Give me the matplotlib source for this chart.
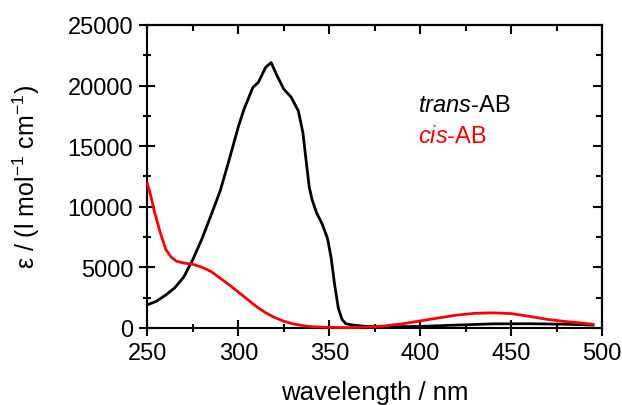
import matplotlib
matplotlib.use('Agg')
import matplotlib.pyplot as plt
from matplotlib.ticker import MultipleLocator

# absorption spectra of azobenzene
trans_wl = [250, 255, 260, 265, 270, 275, 280, 285, 290, 295, 300, 303, 308, 311, 315, 318,
            321, 325, 329, 333, 335.5, 337.5, 339, 340.5, 343, 346, 349, 351, 353, 355, 357,
            359, 362, 366, 370, 380, 400, 420, 440, 460, 480, 495]
trans_eps = [1900, 2200, 2700, 3300, 4200, 5650, 7350, 9300, 11300, 13900, 16600, 18000, 19850,
             20270, 21500, 21900, 20900, 19700, 19050, 17900, 16100, 13500, 11600, 10600, 9500,
             8600, 7400, 5800, 3500, 1600, 700, 350, 250, 180, 120, 80, 120, 230, 330, 340, 300, 230]

cis_wl = [250, 252, 254, 257, 260, 263, 266, 270, 275, 280, 285, 290, 295, 300, 305, 310, 315,
          320, 325, 330, 335, 340, 350, 360, 370, 380, 390, 400, 410, 420, 430, 440, 450, 460,
          470, 480, 490, 495]
cis_eps = [11900, 10800, 9500, 7900, 6500, 5850, 5500, 5350, 5250, 5000, 4650, 4100, 3550, 2950,
           2350, 1750, 1250, 850, 550, 330, 200, 100, 40, 20, 60, 150, 330, 570, 820, 1050, 1200,
           1240, 1180, 950, 700, 520, 380, 290]

plt.rcParams['font.family'] = 'Liberation Sans'
plt.rcParams['mathtext.fontset'] = 'custom'
plt.rcParams['mathtext.rm'] = 'Liberation Sans'
plt.rcParams['mathtext.it'] = 'Liberation Sans:italic'
plt.rcParams['mathtext.default'] = 'regular'

fig = plt.figure(figsize=(6.22, 4.06), dpi=100)
ax = fig.add_axes([0.237, 0.19, 0.731, 0.746])

ax.plot(trans_wl, trans_eps, color='black', lw=2.0, zorder=3, clip_on=False)
ax.plot(cis_wl, cis_eps, color='red', lw=2.0, zorder=4, clip_on=False)

ax.set_xlim(250, 500)
ax.set_ylim(0, 25000)
ax.xaxis.set_major_locator(MultipleLocator(50))
ax.xaxis.set_minor_locator(MultipleLocator(25))
ax.yaxis.set_major_locator(MultipleLocator(5000))
ax.yaxis.set_minor_locator(MultipleLocator(2500))

for s in ax.spines.values():
    s.set_linewidth(1.5)

ax.tick_params(which='both', direction='inout', width=1.5, labelsize=17, pad=4.5)
ax.tick_params(which='major', length=11.5)
ax.tick_params(which='minor', length=6)

# top / right ticks point inward only
secx = ax.secondary_xaxis('top')
secx.xaxis.set_major_locator(MultipleLocator(50))
secx.xaxis.set_minor_locator(MultipleLocator(25))
secx.tick_params(which='both', direction='in', width=1.5, labeltop=False)
secx.tick_params(which='major', length=6.5)
secx.tick_params(which='minor', length=4)
secx.spines['top'].set_linewidth(1.5)

secy = ax.secondary_yaxis('right')
secy.yaxis.set_major_locator(MultipleLocator(5000))
secy.yaxis.set_minor_locator(MultipleLocator(2500))
secy.tick_params(which='both', direction='in', width=1.5, labelright=False)
secy.tick_params(which='major', length=6.5)
secy.tick_params(which='minor', length=4)
secy.spines['right'].set_linewidth(1.5)

ax.set_xlabel('wavelength / nm', fontsize=18.5)
ax.set_ylabel(r'ε / (l mol$^{-1}$ cm$^{-1}$)', fontsize=18)
ax.yaxis.set_label_coords(-0.232, 0.5)
ax.xaxis.set_label_coords(0.5, -0.172)

ax.text(398.8, 17900, r'$\mathit{trans}$-AB', fontsize=17, color='black')
ax.text(398.8, 15350, r'$\mathit{cis}$-AB', fontsize=17, color='red')

fig.savefig('out.png', dpi=100)
